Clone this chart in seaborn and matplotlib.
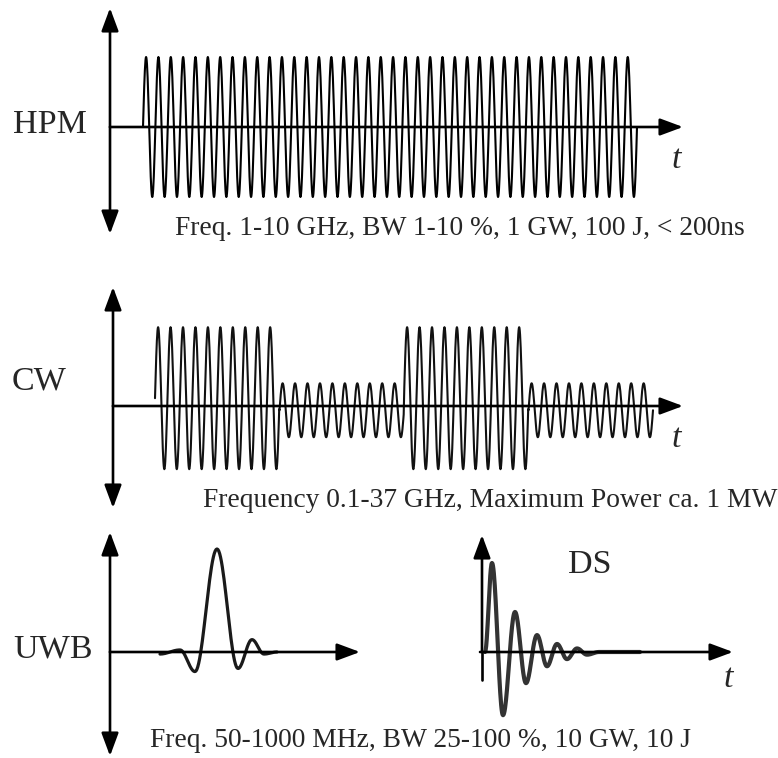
import numpy as np
import pandas as pd
import matplotlib
matplotlib.use("Agg")
import matplotlib.pyplot as plt
import seaborn as sns

# ---------------- data ----------------
# HPM: narrow-band burst, constant amplitude
HPM_CYCLES = 40
HPM_AMPLITUDE = 1.0
# CW: continuous wave, amplitude/offset change in four equal segments
CW_CYCLES_PER_SEGMENT = 10
CW_SEGMENT_AMPLITUDES = [1.0, 0.38, 1.0, 0.38]
CW_SEGMENT_OFFSETS = [0.11, -0.06, 0.11, -0.06]
# UWB: single pulse, extrema (relative time, relative amplitude)
UWB_TIMES = [0, 20, 35, 57, 78, 92, 104, 117]
UWB_VALUES = [-0.02, 0.02, -0.19, 1.0, -0.16, 0.12, -0.02, 0.0]
# DS: damped sinusoid, extrema (relative time, relative amplitude)
DS_TIMES = [0, 7, 18, 30, 41, 52, 62, 72, 82, 92, 102, 114, 155]
DS_VALUES = [0.0, 1.0, -0.71, 0.45, -0.35, 0.19, -0.16, 0.09, -0.08, 0.04, -0.03, 0.0, 0.0]

LABELS = ["HPM", "CW", "UWB", "DS"]
CAPTIONS = [
    "Freq. 1-10 GHz, BW 1-10 %, 1 GW, 100 J, < 200ns",
    "Frequency 0.1-37 GHz, Maximum Power ca. 1 MW",
    "Freq. 50-1000 MHz, BW 25-100 %, 10 GW, 10 J",
]

# ---------------- helpers ----------------
def cosine_through_extrema(t, v, n=24):
    xs, ys = [], []
    for i in range(len(t) - 1):
        s = np.linspace(0, 1, n, endpoint=False)
        a, b = v[i], v[i + 1]
        xs.append(t[i] + s * (t[i + 1] - t[i]))
        ys.append((a + b) / 2 + (a - b) / 2 * np.cos(np.pi * s))
    xs.append([t[-1]])
    ys.append([v[-1]])
    return np.concatenate(xs), np.concatenate(ys)


def draw_arrow(ax, tail, tip, lw=1.9):
    ax.annotate("", xy=tip, xytext=tail,
                arrowprops=dict(arrowstyle="-|>,head_length=0.7,head_width=0.26",
                                mutation_scale=20, lw=lw, color="black",
                                shrinkA=0, shrinkB=0))


sns.set_theme(style="white")
plt.rcParams["font.family"] = ["Liberation Serif", "DejaVu Serif"]

fig = plt.figure(figsize=(7.78, 7.58), dpi=100)
ax = fig.add_axes([0, 0, 1, 1])
ax.set_xlim(0, 778)
ax.set_ylim(758, 0)
ax.axis("off")

# ---------------- HPM ----------------
phase = np.linspace(0, HPM_CYCLES, HPM_CYCLES * 40 + 1)
hpm = pd.DataFrame({"x": 143 + phase / HPM_CYCLES * (637 - 143),
                    "y": 127 - 70 * HPM_AMPLITUDE * np.sin(2 * np.pi * phase)})
sns.lineplot(data=hpm, x="x", y="y", sort=False, estimator=None, ax=ax,
             color="black", lw=1.5)
draw_arrow(ax, (110, 127), (110, 8))
draw_arrow(ax, (110, 127), (110, 234))
draw_arrow(ax, (110, 127), (683, 127))

# ---------------- CW ----------------
ncyc = CW_CYCLES_PER_SEGMENT * len(CW_SEGMENT_AMPLITUDES)
phase = np.linspace(0, ncyc, ncyc * 40 + 1)
seg = np.minimum((phase // CW_CYCLES_PER_SEGMENT).astype(int), len(CW_SEGMENT_AMPLITUDES) - 1)
amp = np.array(CW_SEGMENT_AMPLITUDES)[seg]
off = np.array(CW_SEGMENT_OFFSETS)[seg]
cw = pd.DataFrame({"x": 155 + phase / ncyc * (653 - 155),
                   "y": 406 - 71 * (off + amp * np.sin(2 * np.pi * phase))})
sns.lineplot(data=cw, x="x", y="y", sort=False, estimator=None, ax=ax,
             color="#111111", lw=1.5)
draw_arrow(ax, (113, 406), (113, 287))
draw_arrow(ax, (113, 406), (113, 508))
draw_arrow(ax, (113, 406), (683, 406))

# ---------------- UWB ----------------
ux, uy = cosine_through_extrema(UWB_TIMES, UWB_VALUES)
uwb = pd.DataFrame({"x": 160 + ux, "y": 652 - 103 * uy})
sns.lineplot(data=uwb, x="x", y="y", sort=False, estimator=None, ax=ax,
             color="#1a1a1a", lw=2.3)
draw_arrow(ax, (110, 652), (110, 532))
draw_arrow(ax, (110, 652), (110, 756))
draw_arrow(ax, (110, 652), (360, 652))

# ---------------- DS ----------------
dx, dy = cosine_through_extrema(DS_TIMES, DS_VALUES)
ds = pd.DataFrame({"x": 485 + dx, "y": 652 - 89 * dy})
ax.plot([482, 482], [652, 680], color="black", lw=1.9)
draw_arrow(ax, (482, 652), (482, 535))
draw_arrow(ax, (480, 652), (733, 652))
sns.lineplot(data=ds, x="x", y="y", sort=False, estimator=None, ax=ax,
             color="#333333", lw=3.0)

# ---------------- text ----------------
big = 24.5
small = 19.8
ax.text(13, 133, LABELS[0], fontsize=big, ha="left", va="baseline")
ax.text(12, 389, LABELS[1], fontsize=big, ha="left", va="baseline")
ax.text(13, 657, LABELS[2], fontsize=big, ha="left", va="baseline")
ax.text(568, 573, LABELS[3], fontsize=big, ha="left", va="baseline")

for (x, y) in [(672, 168), (672, 447), (724, 687)]:
    ax.text(x, y, "t", fontsize=big, style="italic", ha="left", va="baseline")

ax.text(175, 235, CAPTIONS[0], fontsize=small, ha="left", va="baseline")
ax.text(203, 507, CAPTIONS[1], fontsize=small, ha="left", va="baseline")
ax.text(150, 747, CAPTIONS[2], fontsize=small, ha="left", va="baseline")

fig.savefig("out.png", dpi=100, facecolor="white")
